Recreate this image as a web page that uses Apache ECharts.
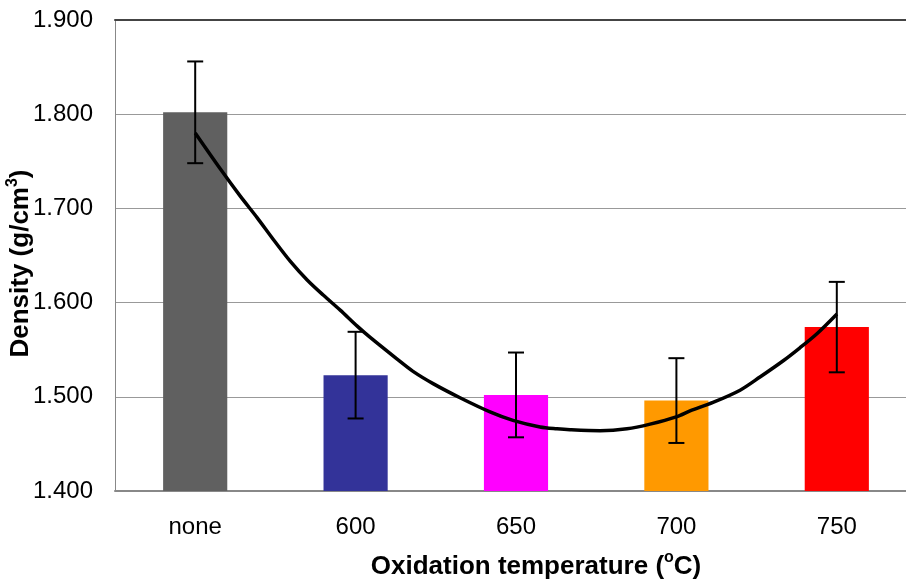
<!DOCTYPE html>
<html>
<head>
<meta charset="utf-8">
<script src="https://cdn.jsdelivr.net/npm/echarts@6/dist/echarts.min.js"></script>
<style>
  html, body { margin: 0; padding: 0; background: #fff; }
  #chart { width: 906px; height: 580px; }
</style>
</head>
<body>
<div id="chart"></div>
<script>
// data
const categories = ['none', '600', '650', '700', '750']
const density = [1.802, 1.523, 1.502, 1.496, 1.574]
const errors = [0.054, 0.046, 0.045, 0.045, 0.048]
const barColors = ['#606060', '#333399', '#ff00ff', '#ff9900', '#ff0000']
// trend curve: [category position, density]
const trendX = [0.0, 0.156, 0.281, 0.387, 0.487, 0.592, 0.698, 0.798, 0.904, 1.010,
  1.091, 1.259, 1.358, 1.483, 1.651, 1.838, 1.981, 2.150, 2.256, 2.337, 2.524,
  2.692, 2.836, 3.004, 3.085, 3.228, 3.397, 3.521, 3.664, 3.770, 3.876, 4.001]
const trendY = [1.780, 1.742, 1.713, 1.690, 1.667, 1.644, 1.624, 1.608, 1.592, 1.575,
  1.563, 1.540, 1.527, 1.514, 1.499, 1.484, 1.475, 1.468, 1.466, 1.465, 1.464,
  1.466, 1.471, 1.479, 1.485, 1.494, 1.507, 1.521, 1.538, 1.552, 1.567, 1.588]

const font = 'Liberation Sans, Arial, sans-serif'

const chart = echarts.init(document.getElementById('chart'))

const option = {
  animation: false,
  grid: { left: 115, top: 20, bottom: 89, width: 802, outerBoundsMode: 'none' },
  xAxis: [
    {
      type: 'category',
      data: categories,
      axisLine: { lineStyle: { color: '#888', width: 2 } },
      axisTick: { show: false },
      axisLabel: { color: '#000', fontSize: 24, fontFamily: font, margin: 24 },
      name: 'Oxidation temperature ({s|o}C)',
      nameLocation: 'middle',
      nameGap: 59,
      nameMoveOverlap: false,
      nameTextStyle: {
        color: '#000', fontSize: 26, fontWeight: 'bold', fontFamily: font, lineHeight: 34,
        padding: [0, 0, 0, 40],
        rich: { s: { fontSize: 16, lineHeight: 16, fontWeight: 'bold', fontFamily: font, color: '#000', verticalAlign: 'top' } },
      },
    },
    {
      // value axis used for the trend curve, its line is the top border
      type: 'value',
      position: 'top',
      min: -0.5,
      max: 4.5,
      axisLine: { show: true, onZero: false, lineStyle: { color: '#444', width: 2 } },
      axisTick: { show: false },
      axisLabel: { show: false },
      splitLine: { show: false },
    },
  ],
  yAxis: {
    type: 'value',
    min: 1.4,
    max: 1.9,
    interval: 0.1,
    axisLine: { show: true, onZero: false, lineStyle: { color: '#888', width: 1 } },
    axisTick: { show: false },
    axisLabel: {
      color: '#000', fontSize: 24, fontFamily: font, margin: 22,
      formatter: v => v.toFixed(3),
    },
    splitLine: { lineStyle: { color: '#999', width: 1 } },
    name: '{a|Density (g/cm}{s|3}{a|)}',
    nameLocation: 'middle',
    nameGap: 78,
    nameMoveOverlap: false,
    nameTextStyle: {
      padding: [0, 16, 0, 0],
      rich: {
        a: { fontSize: 26, lineHeight: 32, fontWeight: 'bold', fontFamily: font, color: '#000' },
        s: { fontSize: 16, lineHeight: 16, fontWeight: 'bold', fontFamily: font, color: '#000', verticalAlign: 'top' },
      },
    },
  },
  series: [
    {
      type: 'bar',
      barWidth: '40%',
      data: density.map((v, i) => ({ value: v, itemStyle: { color: barColors[i] } })),
    },
    {
      type: 'custom',
      xAxisIndex: 0,
      z: 3,
      data: density.map((v, i) => [i, v - errors[i], v + errors[i]]),
      renderItem: (params, api) => {
        const lo = api.coord([api.value(0), api.value(1)])
        const hi = api.coord([api.value(0), api.value(2)])
        const half = 8
        const style = { stroke: '#000', lineWidth: 2 }
        return {
          type: 'group',
          children: [
            { type: 'line', shape: { x1: lo[0], y1: lo[1], x2: hi[0], y2: hi[1] }, style },
            { type: 'line', shape: { x1: hi[0] - half, y1: hi[1], x2: hi[0] + half, y2: hi[1] }, style },
            { type: 'line', shape: { x1: lo[0] - half, y1: lo[1], x2: lo[0] + half, y2: lo[1] }, style },
          ],
        }
      },
    },
    {
      type: 'line',
      xAxisIndex: 1,
      z: 4,
      symbol: 'none',
      smooth: 0.3,
      lineStyle: { color: '#000', width: 3.5 },
      data: trendX.map((x, i) => [x, trendY[i]]),
    },
  ],
}

chart.setOption(option)
</script>
</body>
</html>
